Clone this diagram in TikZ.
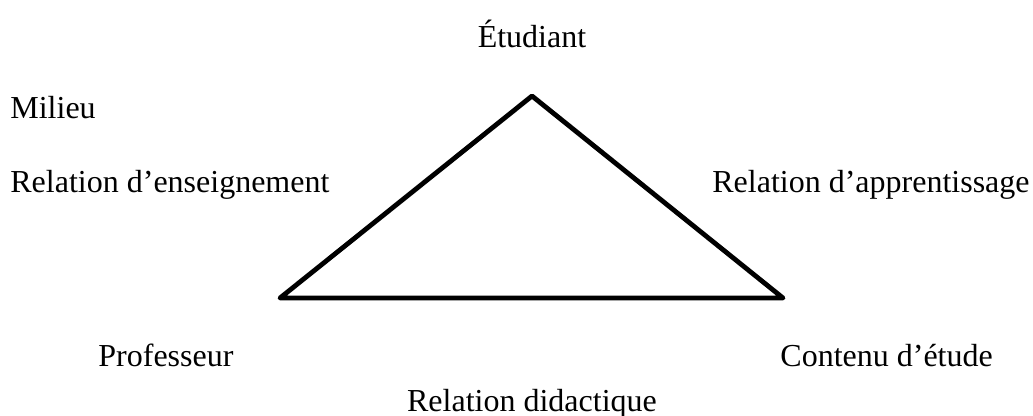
\documentclass[tikz,border=0pt]{standalone}
\usepackage{fontspec}
\setmainfont{Liberation Serif}
\usetikzlibrary{positioning}

\begin{document}
\begin{tikzpicture}[x=0.5pt, y=-0.5pt,
  lbl/.style={font=\fontsize{16}{19}\selectfont, inner sep=0pt},
  edge/.style={draw=black, line width=2.4pt, line join=round, line cap=round}]
  \useasboundingbox (0,0) rectangle (1033,416);

  % Triangle vertices
  \coordinate (etu) at (532,96);
  \coordinate (prof) at (280,298);
  \coordinate (cont) at (783,298);
  \draw[edge] (etu) -- (prof) -- (cont) -- cycle;

  % Vertex labels
  \node[lbl, anchor=base] (tetu) at (532,48) {Étudiant};
  \node[lbl, anchor=base west] (tprof) at (98,367) {Professeur};
  \node[lbl, anchor=base west] (tcont) at (780,367) {Contenu d’étude};

  % Relations
  \node[lbl, anchor=base west] (milieu) at (10,119) {Milieu};
  \node[lbl, anchor=base west] (rens) at (10,193) {Relation d’enseignement};
  \node[lbl, anchor=base east] (rapp) at (1030,193) {Relation d’apprentissage};
  \node[lbl, anchor=base] (rdid) at (532,412) {Relation didactique};
\end{tikzpicture}
\end{document}
